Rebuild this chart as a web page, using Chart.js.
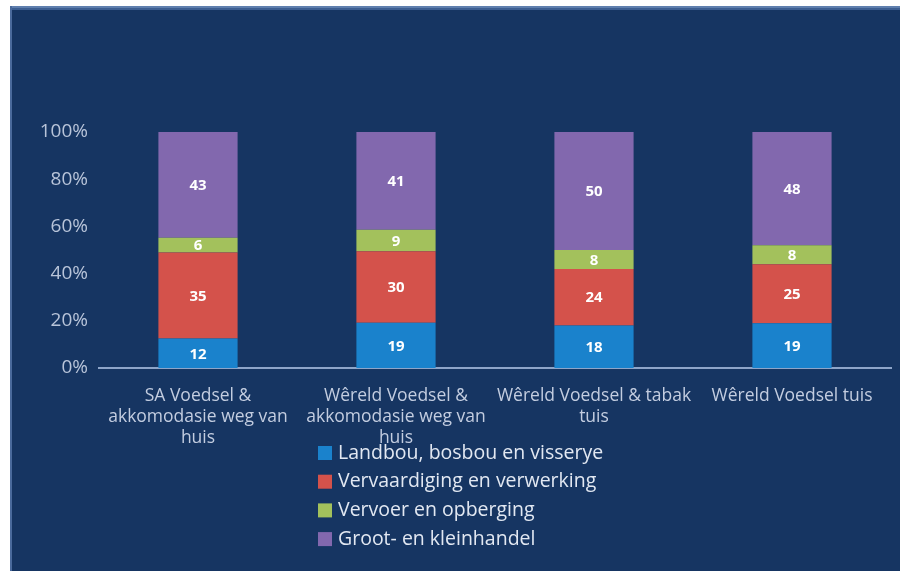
<!DOCTYPE html>
<html>
<head>
<meta charset="utf-8">
<script src="https://cdn.jsdelivr.net/npm/chart.js@4"></script>
<style>
html,body{margin:0;padding:0;background:#ffffff;}
#c{display:block;}
</style>
</head>
<body>
<canvas id="c" width="900" height="571"></canvas>
<script>
const categories = [
  ["SA Voedsel &", "akkomodasie weg van", "huis"],
  ["Wêreld Voedsel &", "akkomodasie weg van", "huis"],
  ["Wêreld Voedsel & tabak", "tuis"],
  ["Wêreld Voedsel tuis"]
];
const seriesNames = [
  "Landbou, bosbou en visserye",
  "Vervaardiging en verwerking",
  "Vervoer en opberging",
  "Groot- en kleinhandel"
];
const landbou = [12, 19, 18, 19];
const vervaardiging = [35, 30, 24, 25];
const vervoer = [6, 9, 8, 8];
const handel = [43, 41, 50, 48];
const yTicks = [0, 20, 40, 60, 80, 100];
const colors = ["#1a82cc", "#d4524b", "#a3c15c", "#8268ae"];

const raw = [landbou, vervaardiging, vervoer, handel];
const totals = categories.map((_, i) => raw.reduce((s, a) => s + a[i], 0));
const pct = raw.map(a => a.map((v, i) => v / totals[i] * 100));

const FONT = "'Open Sans', Lato, sans-serif";

const bgPlugin = {
  id: 'bg',
  beforeDraw(chart) {
    const ctx = chart.ctx;
    ctx.save();
    ctx.fillStyle = '#ffffff';
    ctx.fillRect(0, 0, chart.width, chart.height);
    ctx.fillStyle = '#163562';
    ctx.fillRect(10, 6, chart.width - 10, chart.height - 6);
    ctx.fillStyle = '#5f7fae';
    ctx.fillRect(10, 6, chart.width - 10, 2);
    ctx.fillStyle = '#3d5f92';
    ctx.fillRect(10, 8, chart.width - 10, 2);
    ctx.fillStyle = '#4a6a9c';
    ctx.fillRect(10, 6, 2, chart.height - 6);
    ctx.restore();
  }
};

const labelPlugin = {
  id: 'vals',
  afterDatasetsDraw(chart) {
    const ctx = chart.ctx;
    ctx.save();
    ctx.font = "bold 15px " + FONT;
    ctx.fillStyle = '#ffffff';
    ctx.textAlign = 'center';
    ctx.textBaseline = 'middle';
    chart.data.datasets.forEach((ds, di) => {
      const meta = chart.getDatasetMeta(di);
      meta.data.forEach((el, i) => {
        const y = (el.y + el.base) / 2;
        ctx.fillText(String(raw[di][i]), el.x, y + 1);
      });
    });
    ctx.restore();
  }
};

const legendPlugin = {
  id: 'customLegend',
  afterDraw(chart) {
    const ctx = chart.ctx;
    ctx.save();
    ctx.font = "19.5px " + FONT;
    ctx.textBaseline = 'middle';
    ctx.textAlign = 'left';
    const x0 = 318, y0 = 453, step = 28.7;
    seriesNames.forEach((name, i) => {
      const y = y0 + i * step;
      ctx.fillStyle = colors[i];
      ctx.fillRect(x0, y - 7, 14, 14);
      ctx.fillStyle = '#e2e8f2';
      ctx.fillText(name, x0 + 20, y);
    });
    ctx.restore();
  }
};

new Chart(document.getElementById('c'), {
  type: 'bar',
  data: {
    labels: categories,
    datasets: seriesNames.map((n, i) => ({
      label: n,
      data: pct[i],
      backgroundColor: colors[i],
      borderWidth: 0,
      barPercentage: 0.4,
      categoryPercentage: 1.0
    }))
  },
  options: {
    responsive: false,
    animation: false,
    layout: { padding: { top: 132, left: 0, right: 9, bottom: 0 } },
    plugins: { legend: { display: false }, tooltip: { enabled: false } },
    scales: {
      x: {
        stacked: true,
        grid: { display: false, drawTicks: false },
        border: { display: true, color: '#8ea5c9', width: 2 },
        ticks: {
          color: '#c3cde0',
          font: { family: FONT, size: 17.5, lineHeight: 1.2 },
          padding: 18,
          maxRotation: 0,
          autoSkip: false
        },
        afterFit(scale) { scale.height = 203; }
      },
      y: {
        stacked: true,
        min: 0,
        max: 100,
        afterBuildTicks(scale) { scale.ticks = yTicks.map(v => ({ value: v })); },
        grid: { display: false, drawTicks: false },
        border: { display: false },
        ticks: {
          color: '#b8c4d9',
          font: { family: FONT, size: 19 },
          padding: 11,
          callback: v => v + '%'
        },
        afterFit(scale) { scale.width = 99; }
      }
    }
  },
  plugins: [bgPlugin, labelPlugin, legendPlugin]
});
</script>
</body>
</html>
